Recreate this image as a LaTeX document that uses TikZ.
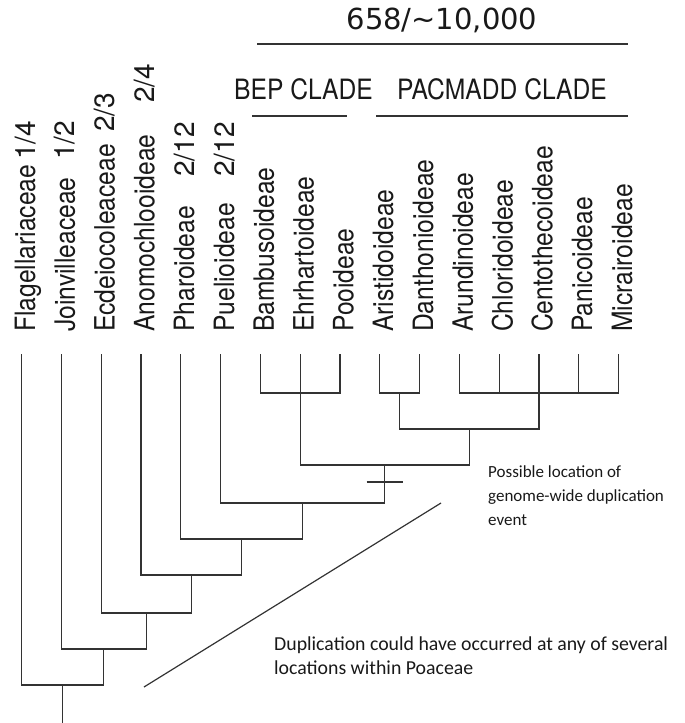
\documentclass[tikz,border=0pt]{standalone}
\usepackage{fontspec}
\setmainfont{TeX Gyre Heros}
\newfontfamily\cnfont{TeX Gyre Heros}[FakeStretch=0.88]
\newfontfamily\notefont{Carlito}
\newfontfamily\countfont{DejaVu Sans}
\usepackage{tikz}

\tikzset{
  taxon/.style={rotate=90, anchor=base west, inner sep=0pt, text=black!90,
    font=\cnfont\fontsize{28}{30}\selectfont},
  clade/.style={anchor=base, inner sep=0pt, text=black!90,
    font=\cnfont\fontsize{28}{30}\selectfont},
  note/.style={anchor=base west, inner sep=0pt, align=left, text=black!90,
    font=\notefont\fontsize{17}{24}\selectfont},
  branch/.style={draw=black!80, line width=1.2pt},
}
\newcommand{\ratio}[1]{{\rmfamily #1}}

\begin{document}
\begin{tikzpicture}[x=1pt, y=-1pt]
    \useasboundingbox (0,0) rectangle (685,723);
    % taxa
    \node[taxon] (flag) at (35,332) {\makebox[172pt][l]{Flagellariaceae}\ratio{1/4}};
    \node[taxon] (joinv) at (74.8,332) {\makebox[172pt][l]{Joinvilleaceae}\ratio{1/2}};
    \node[taxon] (ecdei) at (114.6,332) {\makebox[200pt][l]{Ecdeiocoleaceae}\ratio{2/3}};
    \node[taxon] (anomo) at (154.4,332) {\makebox[229pt][l]{Anomochlooideae}\ratio{2/4}};
    \node[taxon] (pharo) at (194.2,332) {\makebox[155pt][l]{Pharoideae}\ratio{2/12}};
    \node[taxon] (puel) at (234,332) {\makebox[155pt][l]{Puelioideae}\ratio{2/12}};
    \node[taxon] (bamb) at (273.8,332) {Bambusoideae};
    \node[taxon] (ehrh) at (313.6,332) {Ehrhartoideae};
    \node[taxon] (pooi) at (353.4,332) {Pooideae};
    \node[taxon] (aris) at (393.2,332) {Aristidoideae};
    \node[taxon] (danth) at (433,332) {Danthonioideae};
    \node[taxon] (arun) at (472.8,332) {Arundinoideae};
    \node[taxon] (chlor) at (512.6,332) {Chloridoideae};
    \node[taxon] (cento) at (552.4,332) {Centothecoideae};
    \node[taxon] (pani) at (592.2,332) {Panicoideae};
    \node[taxon] (micr) at (632,332) {Micrairoideae};

    % clade headings
    \node[anchor=base, inner sep=0pt, text=black!90, font=\countfont\fontsize{29}{31}\selectfont]
        (total) at (442,29) {658/\textasciitilde10,000};
    \node[clade] (bep) at (303.5,99) {BEP CLADE};
    \node[clade] (pacmadd) at (502,99) {PACMADD CLADE};
    \coordinate (totalL) at (257,44);
    \coordinate (totalR) at (628,44);
    \coordinate (bepL) at (252,116);
    \coordinate (bepR) at (347,116);
    \coordinate (pacL) at (376,116);
    \coordinate (pacR) at (628,116);
    \draw[branch] (totalL) -- (totalR);
    \draw[branch] (bepL) -- (bepR);
    \draw[branch] (pacL) -- (pacR);

    % tips
    \coordinate (t1) at (21.5,354);
    \coordinate (t2) at (61.3,354);
    \coordinate (t3) at (101.1,354);
    \coordinate (t4) at (140.9,354);
    \coordinate (t5) at (180.7,354);
    \coordinate (t6) at (220.5,354);
    \coordinate (t7) at (260.3,354);
    \coordinate (t8) at (300.1,354);
    \coordinate (t9) at (339.9,354);
    \coordinate (t10) at (379.7,354);
    \coordinate (t11) at (419.5,354);
    \coordinate (t12) at (459.3,354);
    \coordinate (t13) at (499.1,354);
    \coordinate (t14) at (538.9,354);
    \coordinate (t15) at (578.7,354);
    \coordinate (t16) at (618.5,354);

    % internal nodes
    \coordinate (n8) at (300.1,393);
    \coordinate (n10) at (399.6,393);
    \coordinate (n11) at (538.9,393);
    \coordinate (n9) at (469.25,429);
    \coordinate (n7) at (384.7,465);
    \coordinate (n6) at (302.6,503);
    \coordinate (n5) at (241.6,539);
    \coordinate (n4) at (191.3,575);
    \coordinate (n3) at (146.2,613);
    \coordinate (n2) at (103.7,649);
    \coordinate (n1) at (62.6,685);
    \coordinate (root) at (62.6,723);

    \draw[branch] (t7) |- (n8) -| (t9);
    \draw[branch] (t8) -- (n8);
    \draw[branch] (t10) |- (n10) -| (t11);
    \draw[branch] (t12) |- (n11) -| (t16);
    \draw[branch] (t13) -- (t13 |- n11);
    \draw[branch] (t14) -- (n11);
    \draw[branch] (t15) -- (t15 |- n11);
    \draw[branch] (n10) |- (n9) -| (n11);
    \draw[branch] (n8) |- (n7) -| (n9);
    \draw[branch] (t6) |- (n6) -| (n7);
    \draw[branch] (t5) |- (n5) -| (n6);
    \draw[branch] (t4) |- (n4) -| (n5);
    \draw[branch] (t3) |- (n3) -| (n4);
    \draw[branch] (t2) |- (n2) -| (n3);
    \draw[branch] (t1) |- (n1) -| (n2);
    \draw[branch] (n1) -- (root);

    % duplication mark
    \coordinate (dup) at (384.7,482);
    \draw[branch] ([xshift=-18pt]dup) -- ([xshift=18pt]dup);
    \coordinate (slantlo) at (144,687);
    \coordinate (slanthi) at (441,503);
    \draw[branch] (slantlo) -- (slanthi);

    % notes (base = last line)
    \node[note] (possible) at (488,525) {Possible location of\\genome-wide duplication\\event};
    \node[note, font=\notefont\fontsize{19.8}{24}\selectfont]
        (anywhere) at (274,674) {Duplication could have occurred at any of several\\locations within Poaceae};
\end{tikzpicture}
\end{document}
